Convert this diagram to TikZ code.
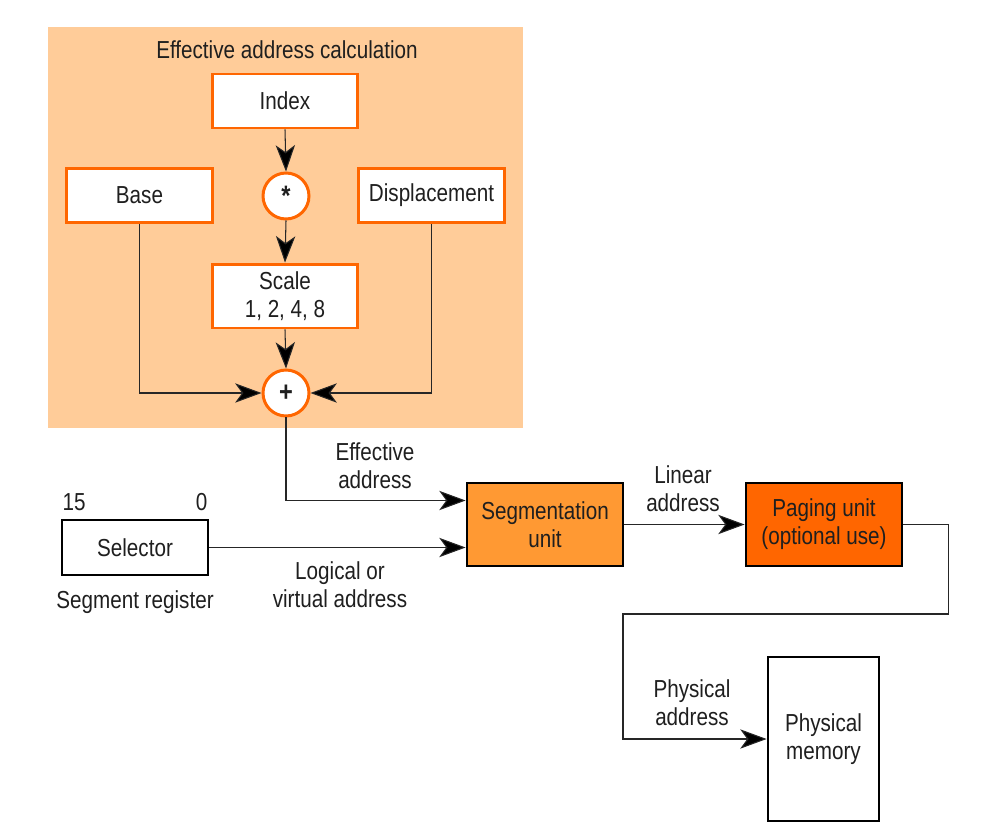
\documentclass[tikz,border=0pt]{standalone}
\usepackage{fontspec}
\setmainfont{Liberation Sans}[FakeStretch=0.84]
\usepackage{tikz}
\usetikzlibrary{arrows.meta, positioning, calc}
\definecolor{CalcPeach}{HTML}{FFCC99}
\definecolor{BorderOrange}{HTML}{FF6600}
\definecolor{SegOrange}{HTML}{FF9933}
\definecolor{PageOrange}{HTML}{FF6600}
\definecolor{WireGray}{HTML}{262626}
\tikzset{
  calcbox/.style={rectangle, draw=BorderOrange, line width=1.7pt, fill=white, minimum width=2.92cm, minimum height=1.08cm, align=center, inner sep=1pt},
  opcircle/.style={circle, draw=BorderOrange, line width=1.7pt, fill=white, minimum size=0.92cm, inner sep=0pt, font=\fontsize{16}{16}\selectfont\bfseries},
  unitbox/.style={rectangle, draw=black, line width=1.6pt, minimum width=3.12cm, minimum height=1.66cm, align=center},
  regbox/.style={rectangle, draw=black, line width=1.6pt, fill=white, minimum width=2.92cm, minimum height=1.1cm, align=center},
  labeltext/.style={align=center, inner sep=0pt},
  arrow/.style={-{Stealth[length=15pt,width=11pt,inset=4pt,fill=black]}, line width=0.6pt, WireGray},
  wire/.style={line width=0.6pt, WireGray}
}
\begin{document}
\begin{tikzpicture}[x=0.02cm, y=-0.02cm, every node/.style={font=\fontsize{14}{15.8}\selectfont, text=black!88}]
  \useasboundingbox (0,0) rectangle (990,838);
  % effective address calculation
  \fill[CalcPeach] (48,27) rectangle (523,428);
  \node[labeltext] (title) at (287,50) {Effective address calculation};
  \node[calcbox] (index) at (285,101) {Index};
  \node[opcircle] (mul) at (286,196) {*};
  \node[calcbox] (base) at (139.5,195.5) {Base};
  \node[calcbox] (disp) at (431.5,195.5) {Displacement};
  \node[calcbox, minimum height=1.28cm] (scale) at (285,296) {Scale\\1, 2, 4, 8};
  \node[opcircle] (add) at (286,393) {+};
  \draw[arrow] (index.south) -- (mul.north);
  \draw[arrow] (mul.south) -- (scale.north);
  \draw[arrow] (scale.south) -- (add.north);
  \draw[arrow] (base.south) |- (add.west);
  \draw[arrow] (disp.south) |- (add.east);
  % segmentation and paging
  \node[unitbox, fill=SegOrange] (seg) at (545,524.5) {Segmentation\\unit};
  \node[unitbox, fill=PageOrange] (page) at (824,524.5) {Paging unit\\(optional use)};
  \node[regbox] (sel) at (135,547.5) {Selector};
  \node[labeltext, above=4pt of sel.north west, anchor=south west, xshift=1pt] (msb) {15};
  \node[labeltext, above=4pt of sel.north east, anchor=south east, xshift=-1pt] (lsb) {0};
  \node[labeltext, below=8pt of sel] (segreg) {Segment register};
  \node[unitbox, minimum width=2.22cm, minimum height=3.28cm, fill=white] (mem) at (823.5,739) {Physical\\memory};
  \coordinate (bend) at (623,614);
  \draw[arrow] (add.south) |- ($(seg.west)+(0,-24)$);
  \draw[arrow] (sel.east) -- (sel.east -| seg.west);
  \draw[arrow] (seg.east) -- (page.west);
  \draw[arrow] (page.east) -- ++(45,0) |- (bend) |- (mem.west);
  % connector labels
  \node[labeltext] (ealabel) at (375,466) {Effective\\address};
  \node[labeltext] (lvlabel) at (340,585) {Logical or\\virtual address};
  \node[labeltext] (lalabel) at (683,489) {Linear\\address};
  \node[labeltext] (palabel) at (692,703) {Physical\\address};
\end{tikzpicture}
\end{document}
